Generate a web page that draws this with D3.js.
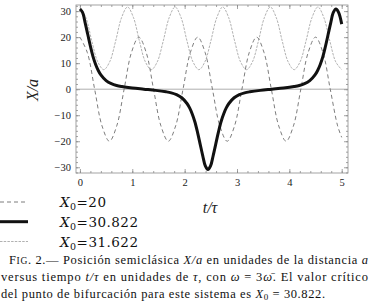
<!DOCTYPE html>
<html>
<head>
<meta charset="utf-8">
<script src="https://cdn.jsdelivr.net/npm/d3@7"></script>
<style>
  body { margin: 0; background: #fff; }
  svg { display: block; font-family: "Liberation Serif", "DejaVu Serif", serif; }
</style>
</head>
<body>
<div id="canvas"></div>
<script>
"use strict";

/* -------------------- Data -------------------- */

// X0 = 20 (dashed)
let t20 = [0, 0.141, 0.281, 0.422, 0.563, 0.703, 0.844, 0.984, 1.125, 1.266, 1.406, 1.547,
    1.688, 1.828, 1.969, 2.109, 2.25, 2.391, 2.531, 2.672, 2.813, 2.953, 3.094, 3.234,
    3.375, 3.516, 3.656, 3.797, 3.938, 4.078, 4.219, 4.359, 4.5, 4.641, 4.781, 4.922, 5.0];
let x20 = [20, 14.1, 0, -14.1, -20, -14.1, 0, 14.1, 20, 14.1, 0, -14.1,
    -20, -14.1, 0, 14.1, 20, 14.1, 0, -14.1, -20, -14.1, 0, 14.1,
    20, 14.1, 0, -14.1, -20, -14.1, 0, 14.1, 20, 14.1, 0, -14.1, -18.5];

// X0 = 30.822 (thick, critical)
let tCrit = [0, 0.05, 0.1, 0.15, 0.2, 0.25, 0.3, 0.35, 0.4, 0.5, 0.6, 0.7, 0.8, 1.0, 1.22,
    1.445, 1.645, 1.745, 1.845, 1.945, 2.045, 2.095, 2.145, 2.195, 2.245, 2.295, 2.345, 2.395,
    2.445, 2.495, 2.545, 2.595, 2.645, 2.695, 2.745, 2.795, 2.845, 2.945, 3.045, 3.145, 3.245,
    3.445, 3.668, 3.89, 4.09, 4.19, 4.29, 4.39, 4.49, 4.54, 4.59, 4.64, 4.69, 4.74, 4.79,
    4.84, 4.89, 4.94, 5.0];
let xCrit = [30.8, 29.5, 25.5, 21, 16.5, 12.5, 9.5, 7.2, 5.5, 3.3, 2.1, 1.4, 1.0, 0.45, 0,
    -0.45, -1.0, -1.4, -2.1, -3.3, -5.5, -7.2, -9.5, -12.5, -16.5, -21, -25.5, -29.5,
    -30.9, -29.5, -25.5, -21, -16.5, -12.5, -9.5, -7.2, -5.5, -3.3, -2.1, -1.4, -1.0,
    -0.45, 0, 0.45, 1.0, 1.4, 2.1, 3.3, 5.5, 7.2, 9.5, 12.5, 16.5, 21, 25.5,
    29.5, 30.8, 29.5, 25];

// X0 = 31.622 (fine dashed)
let t31 = [0, 0.114, 0.227, 0.341, 0.455, 0.568, 0.682, 0.795, 0.909, 1.023, 1.136, 1.25,
    1.364, 1.477, 1.591, 1.705, 1.818, 1.932, 2.045, 2.159, 2.273, 2.386, 2.5, 2.614,
    2.727, 2.841, 2.955, 3.068, 3.182, 3.295, 3.409, 3.523, 3.636, 3.75, 3.864, 3.977,
    4.091, 4.205, 4.318, 4.432, 4.545, 4.659, 4.773, 4.886, 5.0];
let x31 = [31.6, 27.5, 18.5, 10.5, 7.5, 10.5, 18.5, 27.5, 31.6, 27.5, 18.5, 10.5,
    7.5, 10.5, 18.5, 27.5, 31.6, 27.5, 18.5, 10.5, 7.5, 10.5, 18.5, 27.5,
    31.6, 27.5, 18.5, 10.5, 7.5, 10.5, 18.5, 27.5, 31.6, 27.5, 18.5, 10.5,
    7.5, 10.5, 18.5, 27.5, 31.6, 27.5, 18.5, 10.5, 7.5];

let legendLabels = ["20", "30.822", "31.622"];
let xTicks = [0, 1, 2, 3, 4, 5];
let yTicks = [-30, -20, -10, 0, 10, 20, 30];

/* -------------------- Layout -------------------- */

let svgWidth = 371;
let svgHeight = 305;
let plotLeft = 76, plotRight = 348, plotTop = 5, plotBottom = 173;

let svg = d3.select("#canvas")
    .append("svg")
    .attr("width", svgWidth)
    .attr("height", svgHeight);

let xScale = d3.scaleLinear()
    .domain([-0.075, 5.12])
    .range([plotLeft, plotRight]);

let yScale = d3.scaleLinear()
    .domain([-32.2, 32.35])
    .range([plotBottom, plotTop]);

/* -------------------- Frame + ticks -------------------- */

let frameColor = "#8c8c8c";

let xMinor = d3.range(0, 5.01, 0.2);
let yMinor = d3.range(-32, 32.1, 2);

function styleAxis(g) {
    g.select(".domain").remove();
    g.selectAll("line").attr("stroke", frameColor).attr("stroke-width", 0.8);
    g.selectAll("text")
        .attr("fill", "#222")
        .style("font-family", "'Liberation Serif', serif")
        .style("font-size", "10.5px");
}

// bottom
svg.append("g")
    .attr("transform", "translate(0," + plotBottom + ")")
    .call(d3.axisBottom(xScale).tickValues(xMinor).tickSize(-2).tickFormat(""))
    .call(styleAxis);
svg.append("g")
    .attr("transform", "translate(0," + plotBottom + ")")
    .call(d3.axisBottom(xScale).tickValues(xTicks).tickSize(-4).tickPadding(6)
        .tickFormat(d3.format("d")))
    .call(styleAxis);
// top
svg.append("g")
    .attr("transform", "translate(0," + plotTop + ")")
    .call(d3.axisTop(xScale).tickValues(xMinor).tickSize(-2).tickFormat(""))
    .call(styleAxis);
svg.append("g")
    .attr("transform", "translate(0," + plotTop + ")")
    .call(d3.axisTop(xScale).tickValues(xTicks).tickSize(-4).tickFormat(""))
    .call(styleAxis);
// left
svg.append("g")
    .attr("transform", "translate(" + plotLeft + ",0)")
    .call(d3.axisLeft(yScale).tickValues(yMinor).tickSize(-2).tickFormat(""))
    .call(styleAxis);
svg.append("g")
    .attr("transform", "translate(" + plotLeft + ",0)")
    .call(d3.axisLeft(yScale).tickValues(yTicks).tickSize(-4).tickPadding(5))
    .call(styleAxis);
// right
svg.append("g")
    .attr("transform", "translate(" + plotRight + ",0)")
    .call(d3.axisRight(yScale).tickValues(yMinor).tickSize(-2).tickFormat(""))
    .call(styleAxis);
svg.append("g")
    .attr("transform", "translate(" + plotRight + ",0)")
    .call(d3.axisRight(yScale).tickValues(yTicks).tickSize(-4).tickFormat(""))
    .call(styleAxis);

svg.append("rect")
    .attr("x", plotLeft)
    .attr("y", plotTop)
    .attr("width", plotRight - plotLeft)
    .attr("height", plotBottom - plotTop)
    .attr("fill", "none")
    .attr("stroke", frameColor)
    .attr("stroke-width", 0.8);

/* zero axis */
svg.append("line")
    .attr("x1", plotLeft)
    .attr("x2", plotRight)
    .attr("y1", yScale(0))
    .attr("y2", yScale(0))
    .attr("stroke", "#999")
    .attr("stroke-width", 0.8);

/* -------------------- Curves -------------------- */

let line = d3.line()
    .x(d => xScale(d[0]))
    .y(d => yScale(d[1]))
    .curve(d3.curveCatmullRom);

let series = [
    { t: t20, x: x20, color: "#6e6e6e", width: 0.9, dash: "4,3" },
    { t: tCrit, x: xCrit, color: "#111", width: 3, dash: null },
    { t: t31, x: x31, color: "#a8a8a8", width: 0.9, dash: "2.5,1.2" }
];

svg.append("clipPath").attr("id", "plotClip")
    .append("rect")
    .attr("x", plotLeft).attr("y", plotTop)
    .attr("width", plotRight - plotLeft).attr("height", plotBottom - plotTop);

// thin ones first, thick on top
[series[2], series[0], series[1]].forEach(function (s) {
    svg.append("path")
        .datum(d3.zip(s.t, s.x))
        .attr("clip-path", "url(#plotClip)")
        .attr("fill", "none")
        .attr("stroke", s.color)
        .attr("stroke-width", s.width)
        .attr("stroke-dasharray", s.dash)
        .attr("stroke-linejoin", "round")
        .attr("d", line);
});

/* -------------------- Axis titles -------------------- */

svg.append("text")
    .attr("transform", "translate(38,90) rotate(-90)")
    .attr("text-anchor", "middle")
    .style("font-size", "16px")
    .style("font-style", "italic")
    .attr("fill", "#222")
    .text("X/a");

svg.append("text")
    .attr("x", 210)
    .attr("y", 213)
    .attr("text-anchor", "middle")
    .style("font-size", "16px")
    .style("font-style", "italic")
    .attr("fill", "#222")
    .text("t/τ");

/* -------------------- Legend -------------------- */

let legendY = [202, 221.7, 241.5];
let legendWidths = [46, 78, 78];

series.forEach(function (s, i) {
    svg.append("line")
        .attr("x1", 0)
        .attr("x2", 28)
        .attr("y1", legendY[i])
        .attr("y2", legendY[i])
        .attr("stroke", s.color)
        .attr("stroke-width", s.width)
        .attr("stroke-dasharray", s.dash);

    let t = svg.append("text")
        .attr("x", 60)
        .attr("y", legendY[i] + 5)
        .attr("textLength", legendWidths[i])
        .attr("lengthAdjust", "spacing")
        .style("font-family", "'DejaVu Serif', serif")
        .style("font-size", "13.5px")
        .attr("fill", "#111");
    t.append("tspan").style("font-style", "italic").text("X");
    t.append("tspan").attr("dy", 3).style("font-size", "9.5px").text("0");
    t.append("tspan").attr("dy", -3).text("=" + legendLabels[i]);
});

/* -------------------- Caption -------------------- */

let cap1 = svg.append("text")
    .attr("x", 9).attr("y", 264)
    .attr("textLength", 359).attr("lengthAdjust", "spacing")
    .style("font-size", "12.5px").attr("fill", "#111");
cap1.append("tspan").text("F");
cap1.append("tspan").style("font-size", "9.5px").text("IG");
cap1.append("tspan").text(". 2.— Posición semiclásica ");
cap1.append("tspan").style("font-style", "italic").text("X/a");
cap1.append("tspan").text(" en unidades de la distancia ");
cap1.append("tspan").style("font-style", "italic").text("a");

let cap2 = svg.append("text")
    .attr("x", 1).attr("y", 281)
    .attr("textLength", 367).attr("lengthAdjust", "spacing")
    .style("font-size", "12.5px").attr("fill", "#111");
cap2.append("tspan").text("versus tiempo ");
cap2.append("tspan").style("font-style", "italic").text("t/τ");
cap2.append("tspan").text(" en unidades de ");
cap2.append("tspan").style("font-style", "italic").text("τ");
cap2.append("tspan").text(", con ");
cap2.append("tspan").style("font-style", "italic").text("ω");
cap2.append("tspan").text(" = 3");
cap2.append("tspan").style("font-style", "italic").text("ω̄");
cap2.append("tspan").text(". El valor crítico");

let cap3 = svg.append("text")
    .attr("x", 1).attr("y", 297.5)
    .attr("textLength", 324).attr("lengthAdjust", "spacing")
    .style("font-size", "12.5px").attr("fill", "#111");
cap3.append("tspan").text("del punto de bifurcación para este sistema es ");
cap3.append("tspan").style("font-style", "italic").text("X");
cap3.append("tspan").attr("dy", 2.5).style("font-size", "9px").text("0");
cap3.append("tspan").attr("dy", -2.5).text(" = 30.822.");
</script>
</body>
</html>
